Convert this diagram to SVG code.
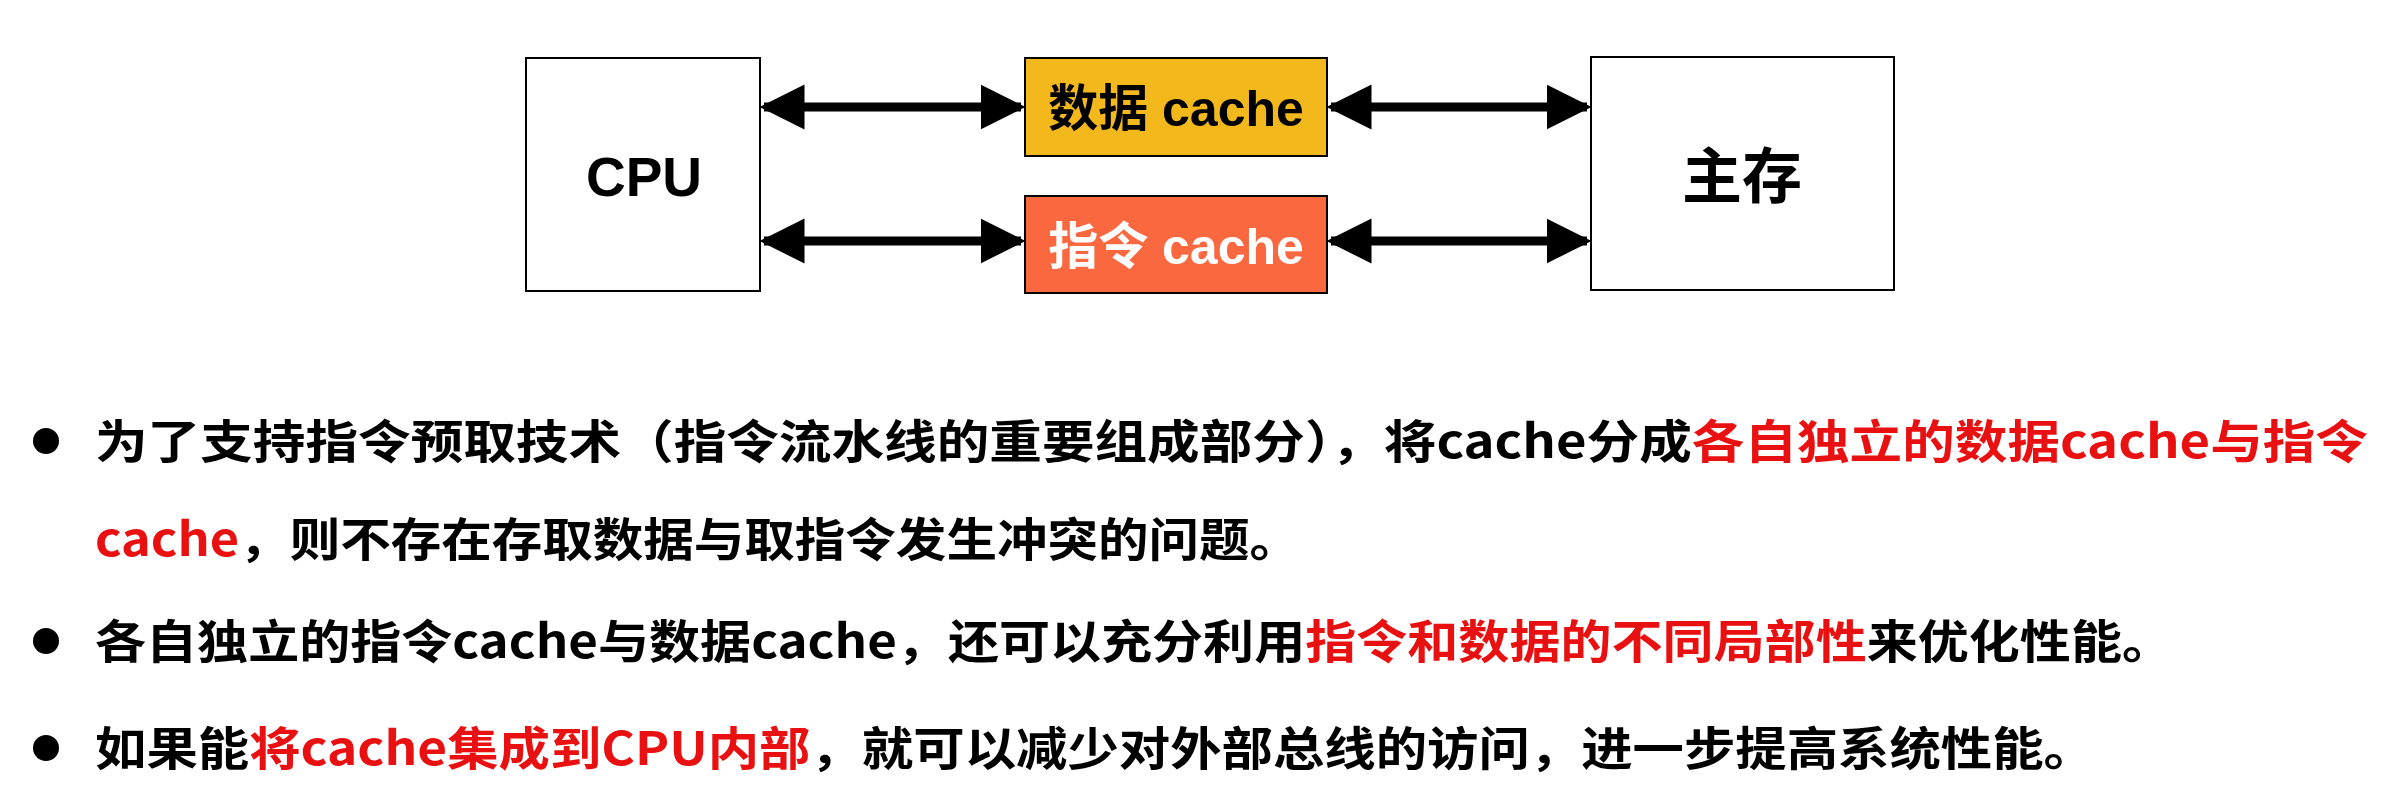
<svg xmlns="http://www.w3.org/2000/svg" width="2403" height="786" viewBox="0 0 2403 786">
<defs>
<marker id="ah" viewBox="0 0 10 10" refX="9" refY="5" markerWidth="5" markerHeight="6" orient="auto-start-reverse" markerUnits="strokeWidth"><path d="M0,0 L10,5 L0,10 z" fill="#000"/></marker>
</defs>
<style>
.box{stroke:#000;stroke-width:2}
.lbl{font-family:"Liberation Sans","Noto Sans CJK SC",sans-serif;font-weight:bold;text-anchor:middle}
.t{font-family:"Noto Sans CJK SC",sans-serif;font-weight:bold;font-size:46px}
.r{fill:#e81010}
.c{stroke:#000;stroke-width:9;marker-start:url(#ah);marker-end:url(#ah)}
</style>
<rect width="2403" height="786" fill="#fff"/>
<g id="cpu"><rect class="box" x="526" y="58" width="234" height="233" fill="#fff"/><text class="lbl" x="644" y="196" font-size="55">CPU</text></g>
<g id="dcache"><rect class="box" x="1025" y="58" width="302" height="98" fill="#f2b81c"/><text class="lbl" x="1176" y="126" font-size="50">数据 cache</text></g>
<g id="icache"><rect class="box" x="1025" y="196" width="302" height="97" fill="#fa6840"/><text class="lbl" x="1176" y="264" font-size="50" fill="#fff">指令 cache</text></g>
<g id="mem"><rect class="box" x="1591" y="57" width="303" height="233" fill="#fff"/><text class="lbl" x="1742" y="198" font-size="60">主存</text></g>
<g id="connectors">
<line class="c" x1="764" y1="107" x2="1021" y2="107"/>
<line class="c" x1="764" y1="241" x2="1021" y2="241"/>
<line class="c" x1="1331" y1="107" x2="1587" y2="107"/>
<line class="c" x1="1331" y1="241" x2="1587" y2="241"/>
</g>
<g id="text">
<circle cx="46" cy="441" r="13"/><circle cx="46" cy="641" r="13"/><circle cx="46" cy="748" r="13"/>
<text class="t" x="95" y="458" textLength="2273" lengthAdjust="spacingAndGlyphs">为了支持指令预取技术（指令流水线的重要组成部分），将cache分成<tspan class="r">各自独立的数据cache与指令</tspan></text>
<text class="t" x="95" y="556" textLength="1205" lengthAdjust="spacingAndGlyphs"><tspan class="r">cache</tspan>，则不存在存取数据与取指令发生冲突的问题。</text>
<text class="t" x="95" y="658" textLength="2078" lengthAdjust="spacingAndGlyphs">各自独立的指令cache与数据cache，还可以充分利用<tspan class="r">指令和数据的不同局部性</tspan>来优化性能。</text>
<text class="t" x="95" y="765" textLength="2000" lengthAdjust="spacingAndGlyphs">如果能<tspan class="r">将cache集成到CPU内部</tspan>，就可以减少对外部总线的访问，进一步提高系统性能。</text>
</g>
</svg>
